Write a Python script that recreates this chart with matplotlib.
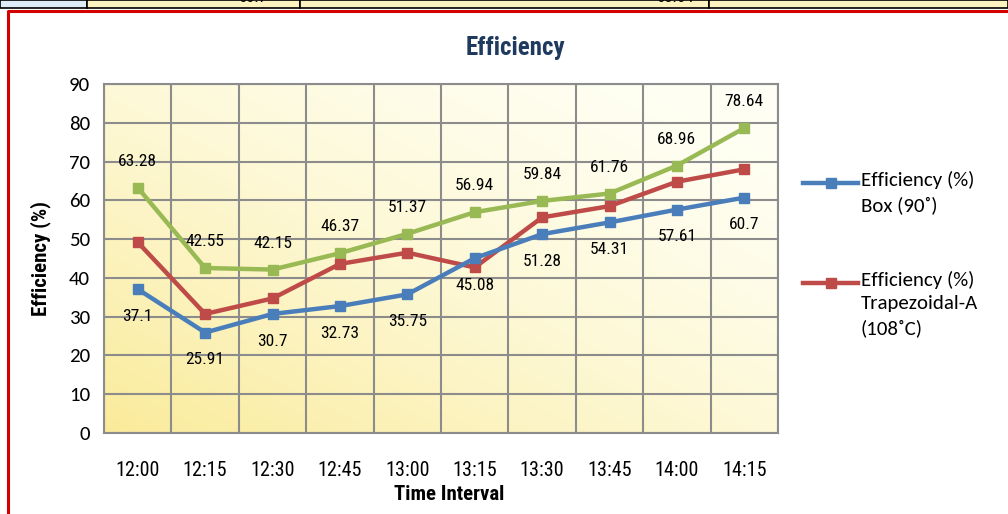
import numpy as np
import matplotlib
matplotlib.use("Agg")
import matplotlib.pyplot as plt
from matplotlib.lines import Line2D
from matplotlib.patches import Rectangle

# data
times = ["12:00", "12:15", "12:30", "12:45", "13:00", "13:15", "13:30", "13:45", "14:00", "14:15"]
eff_box = [37.1, 25.91, 30.7, 32.73, 35.75, 45.08, 51.28, 54.31, 57.61, 60.7]
eff_trap_a = [49.2, 30.7, 34.7, 43.6, 46.5, 42.7, 55.6, 58.5, 64.8, 68.0]
eff_third = [63.28, 42.55, 42.15, 46.37, 51.37, 56.94, 59.84, 61.76, 68.96, 78.64]
legend_labels = ["Efficiency (%)\nBox (90˚)", "Efficiency (%)\nTrapezoidal-A\n(108˚C)"]

BLUE = "#4A7EBB"
RED = "#BE4B48"
GREEN = "#98B954"
NARROW = ["Roboto Condensed", "DejaVu Sans"]
CALIB = ["Carlito", "Open Sans", "DejaVu Sans"]

W, H = 1008, 514
fig = plt.figure(figsize=(W / 100, H / 100), dpi=100)

def fx(px):
    return px / W

def fy(py):
    return 1 - py / H

# strip of the table above the chart (cut off)
strip = [(0, 87, "#DCEBF5"), (87, 300, "#FBF2C0"), (300, 709, "#FBF2C0"), (709, 1008, "#FBF2C0")]
for x0, x1, col in strip:
    fig.add_artist(Rectangle((fx(x0), fy(7.5)), fx(x1 - x0), 7.5 / H, transform=fig.transFigure,
                             facecolor=col, edgecolor="black", linewidth=1.2))
fig.text(fx(268), fy(-2), "60.7", ha="right", va="center", fontsize=12, family=NARROW)
fig.text(fx(694), fy(-2), "68.64", ha="right", va="center", fontsize=12, family=NARROW)

# red frame of the chart box
fig.add_artist(Line2D([fx(8), fx(8), 1.0], [0, fy(10.5), fy(10.5)], transform=fig.transFigure,
                      color="#D40000", linewidth=2.2))

ax = fig.add_axes([fx(104), fy(433), fx(778 - 104), (433 - 84) / H])
x = np.arange(len(times))

# yellow gradient background
gx, gy = np.meshgrid(np.linspace(0, 1, 200), np.linspace(0, 1, 200))
g = np.clip((gx + (1 - gy)) / 2, 0, 1)
c0 = np.array([1.0, 1.0, 0.96])
c1 = np.array([0.98, 0.92, 0.60])
t = (1 - g)[..., None] ** 1.6
img = c0 * (1 - t) + c1 * t
ax.imshow(img, extent=[0, 1, 0, 1], transform=ax.transAxes, aspect="auto", zorder=0, origin="upper")

ax.set_xlim(-0.5, len(times) - 0.5)
ax.set_ylim(0, 90)
ax.set_yticks(np.arange(0, 91, 10))
ax.set_xticks(x)
ax.set_xticklabels(times, fontsize=14.5, family=NARROW)
for lab in ax.get_yticklabels():
    lab.set_family(CALIB)
ax.tick_params(axis="x", length=0, pad=20)
ax.tick_params(axis="y", length=0, pad=10, labelsize=15)

for v in np.arange(-0.5, len(times), 1.0):
    ax.axvline(v, color="#8C8C8C", linewidth=1.5, zorder=1)
for v in np.arange(0, 91, 10):
    ax.axhline(v, color="#8C8C8C", linewidth=1.5, zorder=1)
for s in ax.spines.values():
    s.set_color("#8C8C8C")
    s.set_linewidth(1.5)

ax.plot(x, eff_third, color=GREEN, linewidth=3.2, marker="s", markersize=7, zorder=3)
ax.plot(x, eff_trap_a, color=RED, linewidth=3.2, marker="s", markersize=7, zorder=4)
ax.plot(x, eff_box, color=BLUE, linewidth=3.2, marker="s", markersize=7, zorder=5)

for xi, v in zip(x, eff_third):
    ax.annotate(f"{v:g}", (xi, v), xytext=(0, 19), textcoords="offset points",
                ha="center", va="center", fontsize=12.5, family=NARROW, zorder=6)
for xi, v in zip(x, eff_box):
    ax.annotate(f"{v:g}", (xi, v), xytext=(0, -19.5), textcoords="offset points",
                ha="center", va="center", fontsize=12.5, family=NARROW, zorder=6)

fig.text(fx(515), fy(48), "Efficiency", ha="center", va="center", fontsize=18,
         fontweight="bold", color="#1F3A5F", family=NARROW)
fig.text(fx(449), fy(495), "Time Interval", ha="center", va="center", fontsize=15,
         fontweight="bold", family=NARROW)
fig.text(fx(41), fy(258), "Efficiency (%)", ha="center", va="center", rotation=90,
         fontsize=15, fontweight="bold", family=NARROW)

# legend drawn by hand so the line sits on the first text row
for (py, lab, col) in [(183, legend_labels[0], BLUE), (283, legend_labels[1], RED)]:
    fig.add_artist(Line2D([fx(803), fx(858)], [fy(py), fy(py)], transform=fig.transFigure,
                          color=col, linewidth=3.2))
    fig.add_artist(Line2D([fx(830.5)], [fy(py)], transform=fig.transFigure, color=col,
                          marker="s", markersize=7))
    fig.text(fx(861), fy(py - 12), lab, ha="left", va="top", fontsize=15,
             linespacing=1.45, family=CALIB)

fig.savefig("out.png", dpi=100)
